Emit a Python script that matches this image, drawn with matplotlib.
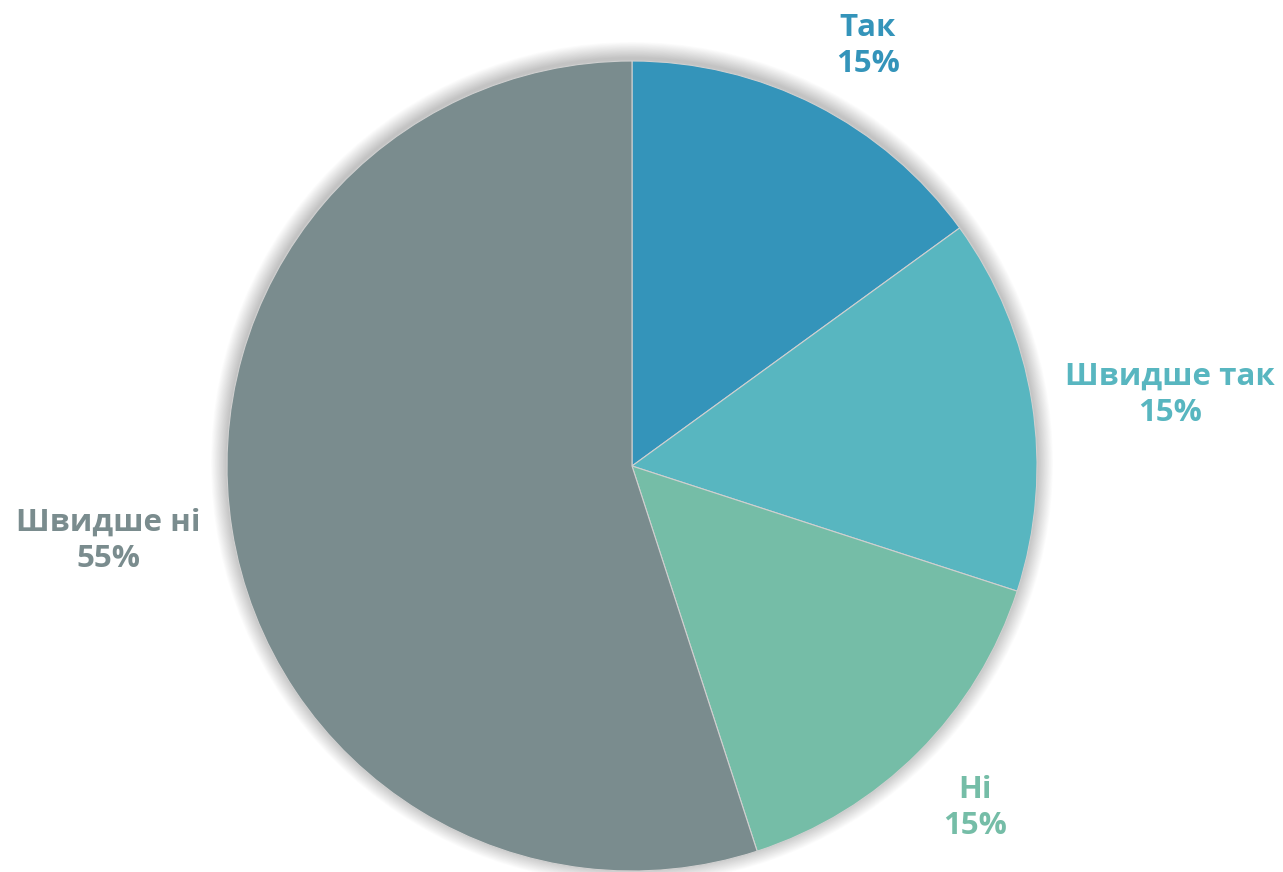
import matplotlib.pyplot as plt
from matplotlib.patches import Circle

# =========================
# Data
# =========================
labels = ['Так', 'Швидше так', 'Ні', 'Швидше ні']
values = [15, 15, 15, 55]
colors = ['#3494BA', '#58B6C0', '#75BDA7', '#7A8C8E']

W, H = 1283, 872
cx, cy, r = 632, H - 466, 405

# label anchor points (pixels, from top-left)
label_pos = [(868, 46), (1170, 395), (975, 808), (108, 541)]

fig = plt.figure(figsize=(W / 100, H / 100), dpi=100)
ax = fig.add_axes([0, 0, 1, 1])

# soft shadow around the pie
for i in range(20, 0, -1):
    ax.add_patch(Circle((cx, cy + 3), r + i * 0.8, color='black', alpha=0.012, lw=0, zorder=0))

ax.pie(values, colors=colors, startangle=90, counterclock=False,
       center=(cx, cy), radius=r, frame=True,
       wedgeprops=dict(edgecolor='#d0d0d0', linewidth=0.8))
ax.set_xlim(0, W)
ax.set_ylim(0, H)
ax.set_aspect('equal')
ax.axis('off')

for lab, v, c, (x, y) in zip(labels, values, colors, label_pos):
    ax.text(x, H - y, f'{lab}\n{v}%', color=c, ha='center', va='center',
            fontsize=22.5, fontweight='bold', family=['Open Sans', 'DejaVu Sans'], linespacing=1.25)

fig.savefig('out.png', dpi=100)
